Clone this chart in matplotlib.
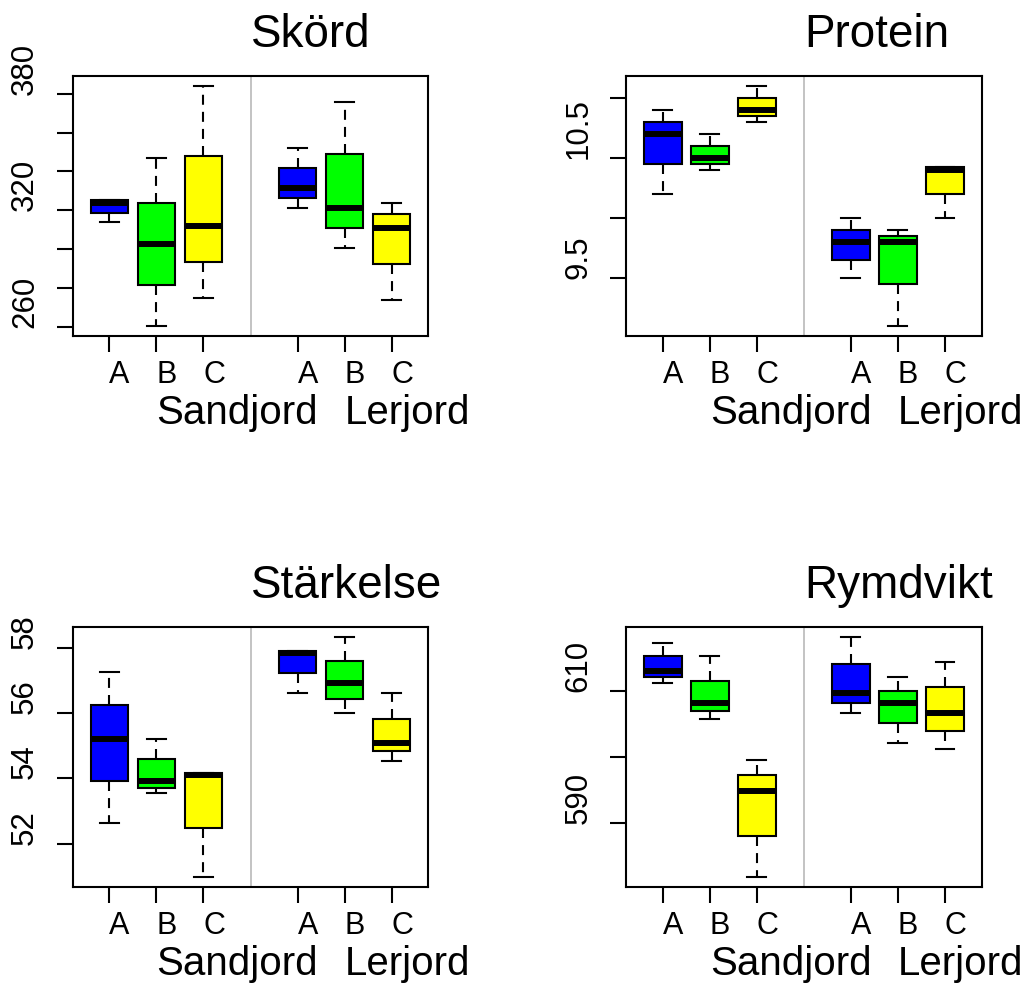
import matplotlib
matplotlib.use('Agg')
import matplotlib.pyplot as plt
from matplotlib.transforms import blended_transform_factory

plt.rcParams['font.family'] = ['Liberation Sans', 'DejaVu Sans']

# Sorter A-C på två jordarter
positioner = [1, 2, 3, 5, 6, 7]
sorter = ['A', 'B', 'C', 'A', 'B', 'C']
jordarter = ['Sandjord', 'Lerjord']
grupp_x = [2, 6]
farger = ['#0000FF', '#00FF00', '#FFFF00'] * 2

# Varje låda: min, Q1, median, Q3, max
skord = [[313.9, 318.8, 324.0, 325.3, 325.3],
         [260.1, 281.7, 302.8, 324.0, 346.9],
         [274.6, 293.2, 311.9, 347.8, 384.3],
         [321.0, 326.2, 331.4, 341.7, 352.1],
         [300.3, 310.7, 321.0, 348.8, 376.0],
         [273.6, 292.2, 310.7, 317.9, 324.0]]
protein = [[10.20, 10.45, 10.70, 10.80, 10.90],
           [10.40, 10.45, 10.50, 10.60, 10.70],
           [10.80, 10.85, 10.90, 11.00, 11.10],
           [9.50, 9.65, 9.80, 9.90, 10.00],
           [9.10, 9.45, 9.80, 9.85, 9.90],
           [10.00, 10.20, 10.40, 10.42, 10.42]]
starkelse = [[52.62, 53.91, 55.22, 56.26, 57.26],
             [53.55, 53.72, 53.93, 54.59, 55.22],
             [50.96, 52.49, 54.10, 54.16, 54.16],
             [56.62, 57.25, 57.87, 57.93, 57.93],
             [56.01, 56.45, 56.95, 57.62, 58.36],
             [54.54, 54.84, 55.08, 55.84, 56.63]]
rymdvikt = [[611.2, 612.1, 613.0, 615.2, 617.3],
            [605.8, 607.0, 608.2, 611.5, 615.2],
            [581.8, 588.1, 594.8, 597.3, 599.6],
            [606.7, 608.1, 609.7, 614.0, 618.2],
            [602.1, 605.1, 608.2, 610.0, 612.1],
            [601.2, 603.9, 606.7, 610.6, 614.3]]

skord_ticks = [260, 280, 300, 320, 340, 360, 380]
skord_etiketter = ['260', '', '', '320', '', '', '380']
protein_ticks = [9.5, 10.0, 10.5, 11.0]
protein_etiketter = ['9.5', '', '10.5', '']
starkelse_ticks = [52, 54, 56, 58]
starkelse_etiketter = ['52', '54', '56', '58']
rymdvikt_ticks = [590, 600, 610]
rymdvikt_etiketter = ['590', '', '610']


def rita_panel(ax, titel, data, ticks, etiketter):
    stats = [dict(whislo=s[0], q1=s[1], med=s[2], q3=s[3], whishi=s[4]) for s in data]
    bp = ax.bxp(stats, positions=positioner, widths=0.8, capwidths=0.4,
                showfliers=False, patch_artist=True,
                boxprops=dict(edgecolor='black', linewidth=1.5),
                whiskerprops=dict(color='black', linewidth=1.5, linestyle=(0, (4.8, 3.4))),
                capprops=dict(color='black', linewidth=1.5),
                medianprops=dict(color='black', linewidth=4.3, solid_capstyle='butt'))
    for box, farg in zip(bp['boxes'], farger):
        box.set_facecolor(farg)

    ax.axvline(4, color='#BEBEBE', linewidth=1.3, zorder=0)

    # y-gränser som i R: dataomfång plus 4 %
    lo = min(s[0] for s in data)
    hi = max(s[4] for s in data)
    marg = 0.04 * (hi - lo)
    ax.set_ylim(lo - marg, hi + marg)
    ax.set_xlim(0.22, 7.78)

    ax.set_xticks(positioner)
    ax.set_xticklabels(sorter, ha='left', fontsize=22)
    ax.set_yticks(ticks)
    ax.set_yticklabels(etiketter, rotation=90, va='bottom', ha='right', fontsize=22.5)
    ax.tick_params(axis='both', direction='out', length=11.5, width=1.5)
    ax.tick_params(axis='x', pad=5)
    ax.tick_params(axis='y', pad=12)
    for sp in ax.spines.values():
        sp.set_linewidth(1.5)

    trans = blended_transform_factory(ax.transData, ax.transAxes)
    for x, namn in zip(grupp_x, jordarter):
        ax.text(x, -87 / 260, namn, transform=trans, ha='left', va='baseline', fontsize=29)

    ax.text(0.5, 1 + 30 / 260, titel, transform=ax.transAxes,
            ha='left', va='baseline', fontsize=33)


fig = plt.figure(figsize=(10.31, 9.87), dpi=100)
W, H = 1031, 987
bredd, hojd = 355.6 / W, 260 / H
ax1 = fig.add_axes([72.7 / W, 1 - 337 / H, bredd, hojd])
ax2 = fig.add_axes([626 / W, 1 - 337 / H, bredd, hojd])
ax3 = fig.add_axes([72.7 / W, 1 - 888 / H, bredd, hojd])
ax4 = fig.add_axes([626 / W, 1 - 888 / H, bredd, hojd])

rita_panel(ax1, 'Skörd', skord, skord_ticks, skord_etiketter)
rita_panel(ax2, 'Protein', protein, protein_ticks, protein_etiketter)
rita_panel(ax3, 'Stärkelse', starkelse, starkelse_ticks, starkelse_etiketter)
rita_panel(ax4, 'Rymdvikt', rymdvikt, rymdvikt_ticks, rymdvikt_etiketter)

fig.savefig('out.png', dpi=100, facecolor='white')
